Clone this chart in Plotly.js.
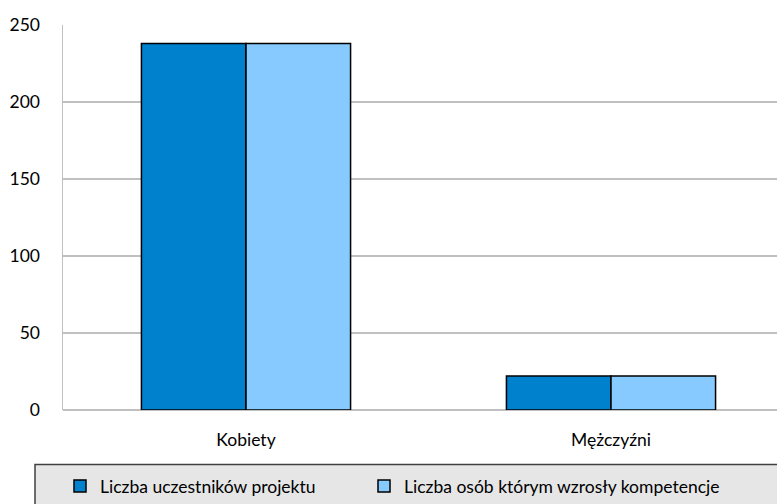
<!DOCTYPE html>
<html>
<head>
<meta charset="utf-8">
<script src="https://cdn.plot.ly/plotly-3.0.1.min.js"></script>
<style>html,body{margin:0;padding:0;background:#fff;}#chart{width:777px;height:504px;}</style>
</head>
<body>
<div id="chart"></div>
<script>
const categories = ["Kobiety", "Mężczyźni"];
const seriesNames = ["Liczba uczestników projektu", "Liczba osób którym wzrosły kompetencje"];
const participants = [238, 22];
const improved = [238, 22];
const yTicks = [0, 50, 100, 150, 200, 250];

const FONT = "Lato, Calibri, Carlito, sans-serif";
const FS = 17.5;

const traces = [
  {type: "bar", name: seriesNames[0], x: categories, y: participants, legend: "legend",
   marker: {color: "#0081CE", line: {color: "#000000", width: 1.5}}},
  {type: "bar", name: seriesNames[1], x: categories, y: improved, legend: "legend2",
   marker: {color: "#87CAFF", line: {color: "#000000", width: 1.5}}}
];

const W = 777, H = 504, L = 63, R = 0, T = 24.5, B = 91;
const pw = W - L - R, ph = H - T - B;
const pxPerCat = 365;
const x0 = -(246 - L) / pxPerCat;
const x1 = x0 + pw / pxPerCat;
const legY = (T + ph - 490) / ph;

const legendBase = {
  orientation: "h", xanchor: "left", y: legY, yanchor: "middle",
  bgcolor: "rgba(0,0,0,0)", borderwidth: 0,
  font: {family: FONT, size: FS, color: "#000"}
};

const layout = {
  width: W, height: H,
  margin: {l: L, r: R, t: T, b: B, pad: 0},
  paper_bgcolor: "#ffffff", plot_bgcolor: "#ffffff",
  font: {family: FONT, size: FS, color: "#000000"},
  barmode: "group",
  bargap: 0.427, bargroupgap: 0,
  showlegend: true,
  xaxis: {
    type: "category", range: [x0, x1],
    showgrid: false, zeroline: false,
    showline: false, ticks: "", ticklabelstandoff: 17,
    tickfont: {family: FONT, size: FS, color: "#000"}
  },
  yaxis: {
    range: [0, 250], tickvals: yTicks, ticktext: yTicks.map(String),
    showgrid: true, gridcolor: "#c0c0c0", gridwidth: 1.5,
    zeroline: true, zerolinecolor: "#c0c0c0", zerolinewidth: 1.5,
    showline: true, linecolor: "#c0c0c0", linewidth: 1.5,
    ticks: "", ticklabelstandoff: 18,
    tickfont: {family: FONT, size: FS, color: "#000"}
  },
  legend: Object.assign({}, legendBase, {x: (60 - L) / pw}),
  legend2: Object.assign({}, legendBase, {x: (364 - L) / pw}),
  shapes: [{
    type: "rect", xref: "paper", yref: "paper", layer: "below",
    x0: (35 - L) / pw, x1: 1.2,
    y0: (T + ph - 468) / ph, y1: -0.6,
    fillcolor: "#e6e6e6", line: {color: "#404040", width: 1.5}
  }]
};

Plotly.newPlot("chart", traces, layout, {displayModeBar: false, staticPlot: true});
</script>
</body>
</html>
